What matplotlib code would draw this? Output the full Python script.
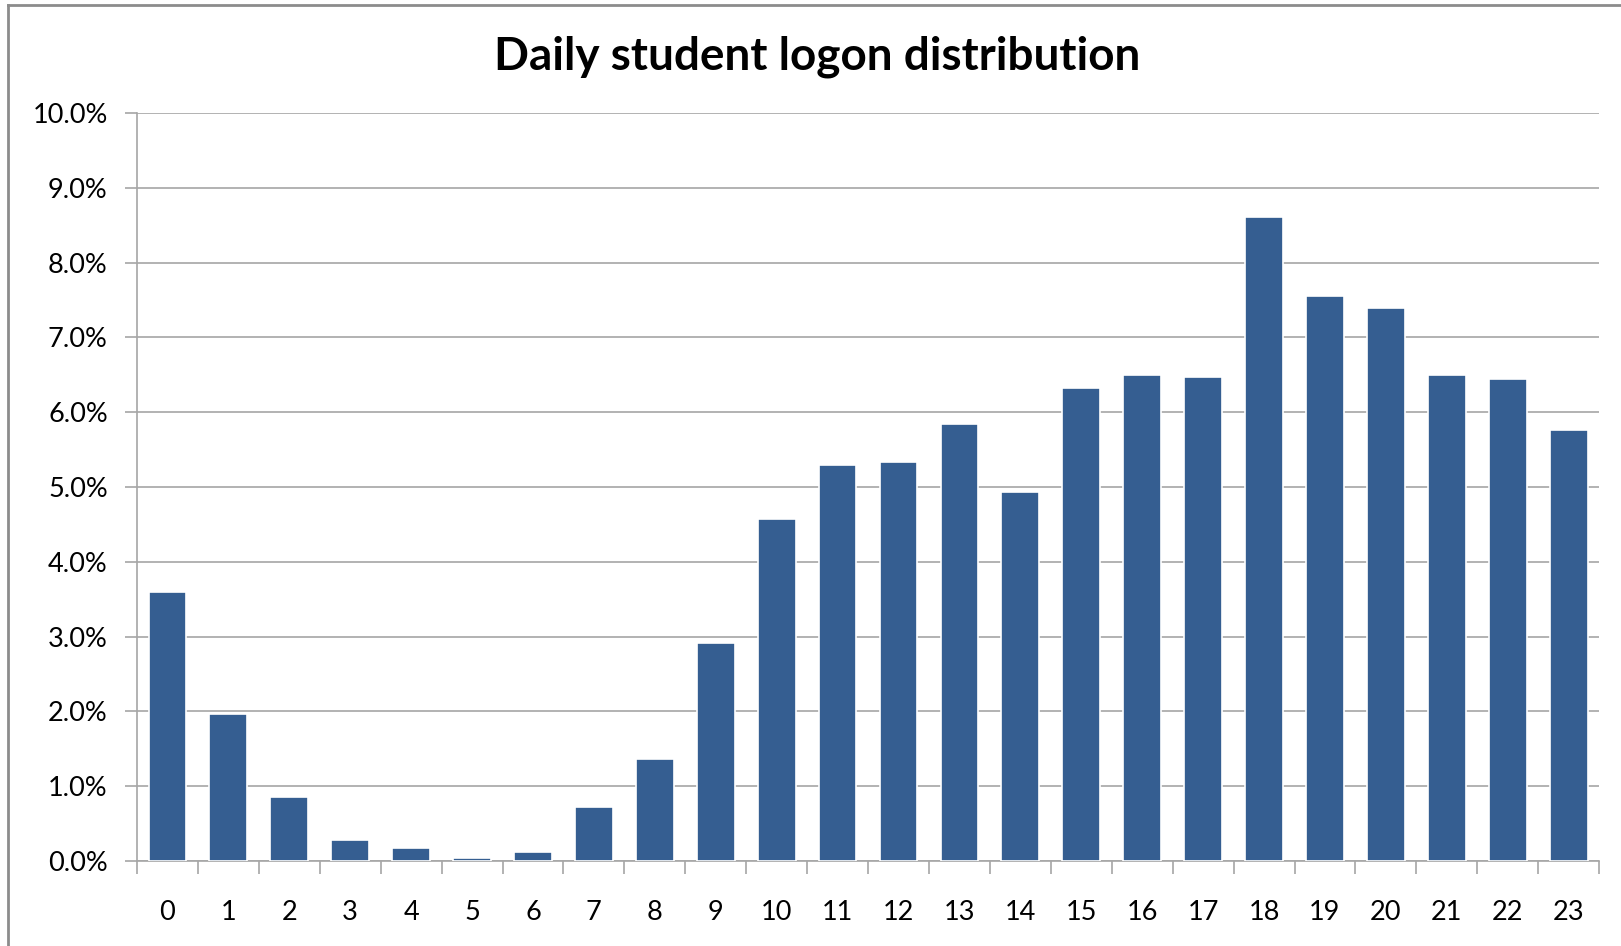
import matplotlib
matplotlib.use("Agg")
import matplotlib.pyplot as plt
from matplotlib.lines import Line2D
from matplotlib.ticker import FuncFormatter
import numpy as np

# hours of the day and share of daily logons (%)
hours = [str(h) for h in range(24)]
share = [3.60, 1.97, 0.85, 0.28, 0.17, 0.04, 0.12, 0.72, 1.36, 2.91,
         4.57, 5.30, 5.33, 5.84, 4.93, 6.32, 6.50, 6.47, 8.61, 7.56,
         7.40, 6.50, 6.44, 5.76]
title = "Daily student logon distribution"

plt.rcParams['font.family'] = ['Lato', 'DejaVu Sans']

fig = plt.figure(figsize=(16.21, 9.46), dpi=100)
ax = fig.add_axes([0.0845, 0.0899, 0.902, 0.7906])

x = np.arange(len(hours))
ax.bar(x, share, width=0.62, color='#355E91', edgecolor='white',
       linewidth=1.2, zorder=3)

ax.set_xlim(-0.5, len(hours) - 0.5)
ax.set_ylim(0, 10)
ax.set_yticks(np.arange(0, 10.5, 1))
ax.yaxis.set_major_formatter(FuncFormatter(lambda v, p: f"{v:.1f}%"))
ax.grid(axis='y', color='#A6A6A6', linewidth=1.2, zorder=0)

# tick marks between categories, labels at centres
ax.set_xticks(np.arange(-0.5, len(hours), 1))
ax.set_xticklabels([])
ax.set_xticks(x, minor=True)
ax.set_xticklabels(hours, minor=True)
ax.tick_params(axis='x', which='major', length=9, color='#A6A6A6', width=1.2)
ax.tick_params(axis='x', which='minor', length=0, pad=28, labelsize=19.5)
ax.tick_params(axis='y', length=9, color='#A6A6A6', width=1.2, pad=12,
               labelsize=19.5)

for s in ['top', 'right']:
    ax.spines[s].set_visible(False)
for s in ['left', 'bottom']:
    ax.spines[s].set_color('#A6A6A6')
    ax.spines[s].set_linewidth(1.2)

fig.text(0.504, 0.94, title, ha='center', va='center', fontsize=33,
         fontweight='bold')

# chart area border
fig.add_artist(Line2D([8 / 1621, 8 / 1621], [0, 1 - 5 / 946],
                      transform=fig.transFigure, color='#8C8C8C', lw=2))
fig.add_artist(Line2D([8 / 1621, 1], [1 - 5 / 946, 1 - 5 / 946],
                      transform=fig.transFigure, color='#8C8C8C', lw=2))

fig.savefig("out.png", dpi=100)
